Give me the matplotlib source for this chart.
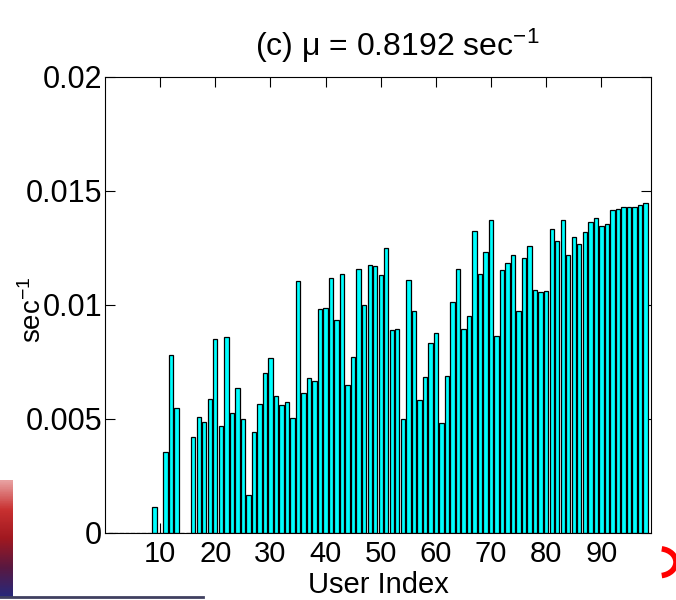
import numpy as np
import matplotlib
matplotlib.use("Agg")
import matplotlib.pyplot as plt
from matplotlib.patches import Arc

plt.rcParams["font.family"] = ["Liberation Sans", "DejaVu Sans"]
plt.rcParams["mathtext.fontset"] = "custom"
plt.rcParams["mathtext.rm"] = "Liberation Sans"
plt.rcParams["mathtext.it"] = "Liberation Sans"

# average rate per user (sec^-1), users 1..98
user_index = np.arange(1, 99)
rate = [
    0, 0, 0, 0, 0, 0, 0, 0, 0.00115, 0,
    0.00354, 0.00781, 0.00547, 0, 0, 0.00422, 0.00507, 0.00486, 0.00588, 0.00850,
    0.00468, 0.00861, 0.00525, 0.00635, 0.00500, 0.00167, 0.00444, 0.00567, 0.00700, 0.00767,
    0.00602, 0.00560, 0.00573, 0.00504, 0.01105, 0.00614, 0.00678, 0.00665, 0.00982, 0.00987,
    0.01118, 0.00936, 0.01136, 0.00649, 0.00773, 0.01160, 0.00998, 0.01174, 0.01169, 0.01131,
    0.01250, 0.00889, 0.00893, 0.00500, 0.01110, 0.00974, 0.00582, 0.00684, 0.00833, 0.00879,
    0.00484, 0.00689, 0.01013, 0.01157, 0.00896, 0.00952, 0.01326, 0.01136, 0.01232, 0.01374,
    0.00862, 0.01153, 0.01186, 0.01219, 0.00972, 0.01207, 0.01259, 0.01067, 0.01057, 0.01061,
    0.01332, 0.01280, 0.01374, 0.01221, 0.01298, 0.01269, 0.01320, 0.01365, 0.01382, 0.01348,
    0.01357, 0.01417, 0.01421, 0.01428, 0.01428, 0.01428, 0.01440, 0.01446,
]
mu = 0.8192

x_ticks = [10, 20, 30, 40, 50, 60, 70, 80, 90]
y_ticks = [0, 0.005, 0.01, 0.015, 0.02]
y_tick_labels = ["0", "0.005", "0.01", "0.015", "0.02"]

fig = plt.figure(figsize=(6.76, 6.0), dpi=100)
ax = fig.add_axes([0.1553, 0.1117, 0.8077, 0.76])

ax.bar(user_index, rate, width=0.8, color="cyan", edgecolor="black", linewidth=0.9)

ax.set_xlim(0, 99)
ax.set_ylim(0, 0.02)
ax.set_xticks(x_ticks)
ax.set_yticks(y_ticks)
ax.set_yticklabels(y_tick_labels)
ax.set_axisbelow(True)
ax.tick_params(direction="in", length=7, width=0.8, top=True, right=True)
ax.tick_params(axis="x", pad=5, labelsize=21)
ax.tick_params(axis="y", pad=2, labelsize=22)
for s in ax.spines.values():
    s.set_linewidth(0.8)

ax.set_title(r"(c) $\mu$ = %.4f sec$^{-1}$" % mu, fontsize=23, pad=15, x=0.535)
ax.set_xlabel("User Index", fontsize=21)
ax.set_ylabel(r"sec$^{-1}$", fontsize=20)
ax.xaxis.set_label_coords(0.5, -0.083)
ax.yaxis.set_label_coords(-0.106, 0.49)

# bits of the slide showing around the figure
grad = np.linspace(0, 1, 50)[:, None]
cmap = matplotlib.colors.LinearSegmentedColormap.from_list(
    "slide", ["#e8a0a0", "#c83030", "#a01820", "#5a1840", "#28287a"])
gax = fig.add_axes([0, 0.005, 0.019, 0.195])
gax.imshow(grad, aspect="auto", cmap=cmap)
gax.axis("off")
fig.add_artist(plt.Line2D([0, 0.3], [0.005, 0.005], transform=fig.transFigure,
                          color="#404060", linewidth=2))
fig.add_artist(Arc((0.975, 0.063), 0.05, 0.045, theta1=-80, theta2=80,
                   transform=fig.transFigure, color="red", linewidth=4))

fig.savefig("out.png", dpi=100)
